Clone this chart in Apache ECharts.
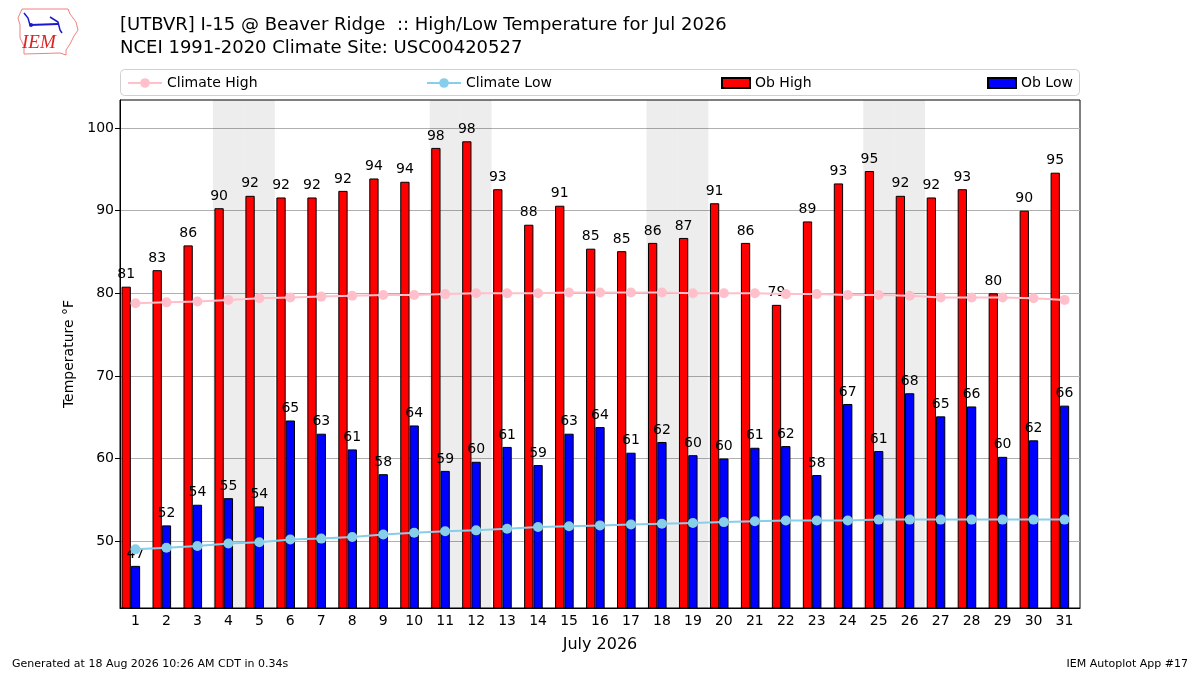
<!DOCTYPE html>
<html>
<head>
<meta charset="utf-8">
<script src="https://cdn.jsdelivr.net/npm/echarts@6/dist/echarts.min.js"></script>
<style>html,body{margin:0;padding:0;background:#fff}#c{width:1200px;height:675px}</style>
</head>
<body>
<div id="c"></div>
<script>
const days = ['1','2','3','4','5','6','7','8','9','10','11','12','13','14','15','16','17','18','19','20','21','22','23','24','25','26','27','28','29','30','31'];
const obHigh = [80.8,82.8,85.8,90.3,91.8,91.6,91.6,92.4,93.9,93.5,97.6,98.4,92.6,88.3,90.6,85.4,85.1,86.1,86.7,90.9,86.1,78.6,88.7,93.3,94.8,91.8,91.6,92.6,80.0,90.0,94.6];
const obLow = [47.0,51.9,54.4,55.2,54.2,64.6,63.0,61.1,58.1,64.0,58.5,59.6,61.4,59.2,63.0,63.8,60.7,62.0,60.4,60.0,61.3,61.5,58.0,66.6,60.9,67.9,65.1,66.3,60.2,62.2,66.4];
const climateHigh = [78.8,78.9,79.0,79.2,79.4,79.5,79.6,79.7,79.8,79.8,79.9,80.0,80.0,80.0,80.1,80.1,80.1,80.1,80.0,80.0,80.0,79.9,79.9,79.8,79.8,79.7,79.5,79.5,79.5,79.4,79.2];
const climateLow = [49.0,49.2,49.4,49.7,49.85,50.2,50.3,50.5,50.8,51.0,51.2,51.3,51.5,51.7,51.8,51.9,52.0,52.1,52.2,52.3,52.4,52.5,52.5,52.5,52.6,52.6,52.6,52.6,52.6,52.6,52.6];
const weekendDays = ['4','5','11','12','18','19','25','26'];
const yTicks = [50,60,70,80,90,100];
const titleLines = ['[UTBVR] I-15 @ Beaver Ridge  :: High/Low Temperature for Jul 2026','NCEI 1991-2020 Climate Site: USC00420527'];
const footerLeft = 'Generated at 18 Aug 2026 10:26 AM CDT in 0.34s';
const footerRight = 'IEM Autoplot App #17';

const FONT = 'DejaVu Sans';
const YMIN = 41.9, YMAX = 103.4;
const shade = days.map(d => weekendDays.includes(d) ? YMAX : '-');

const chart = echarts.init(document.getElementById('c'), null, {renderer:'canvas'});
const legendCommon = {top: 71, itemHeight: 12, textStyle:{fontFamily:FONT, fontSize:14, color:'#000'}, itemGap:0};
chart.setOption({
  animation: false,
  textStyle: {fontFamily: FONT},
  title: {
    text: titleLines.join('\n'),
    left: 115, top: 9,
    textStyle: {fontFamily: FONT, fontSize: 18, fontWeight: 'normal', color: '#000', lineHeight: 23}
  },
  legend: [
    Object.assign({data:['Climate High'], left:122, itemWidth:34}, legendCommon),
    Object.assign({data:['Climate Low'], left:421, itemWidth:34}, legendCommon),
    Object.assign({data:[{name:'Ob High', icon:'rect'}], left:716, itemWidth:28, itemHeight:10}, legendCommon, {itemHeight:10}),
    Object.assign({data:[{name:'Ob Low', icon:'rect'}], left:982, itemWidth:28}, legendCommon, {itemHeight:10})
  ],
  grid: {left:120, right:120, top:100, bottom:67, show:true, borderColor:'#000', borderWidth:1, backgroundColor:'transparent'},
  xAxis: [{
    type:'category', data: days, boundaryGap:true,
    name:'July 2026', nameLocation:'middle', nameGap:29,
    nameTextStyle:{fontFamily:FONT, fontSize:16, color:'#000'},
    axisLine:{lineStyle:{color:'#000'}},
    axisTick:{alignWithLabel:true, length:5, lineStyle:{color:'#000'}},
    axisLabel:{fontFamily:FONT, fontSize:14, color:'#000', margin:6, interval:0},
    splitLine:{show:false}
  },{
    type:'category', data: days, boundaryGap:true, show:false
  }],
  yAxis: {
    type:'value', min:YMIN, max:YMAX,
    name:'Temperature °F', nameLocation:'middle', nameGap:42,
    nameTextStyle:{fontFamily:FONT, fontSize:14, color:'#000'},
    axisLine:{show:true, lineStyle:{color:'#000'}},
    axisTick:{show:true, length:5, lineStyle:{color:'#000'}, customValues: yTicks},
    axisLabel:{fontFamily:FONT, fontSize:14, color:'#000', margin:6, customValues: yTicks},
    splitLine:{show:true, lineStyle:{color:'#b0b0b0', width:1}}
  },
  graphic: [
    {type:'rect', shape:{x:120.5, y:69.5, width:959, height:26, r:4}, style:{fill:'none', stroke:'#d0d0d0', lineWidth:1}, z:-1},
    {type:'polyline', shape:{points:[[22,9],[68,9],[70,14],[76,22],[78,30],[74,36],[70,44],[66,50],[66,55],[60,53],[24,54],[24,46],[20,38],[20,25],[18,18],[22,9]]}, style:{fill:'none', stroke:'#f08080', lineWidth:1}},
    {type:'polyline', shape:{points:[[30,25],[58,24]]}, style:{stroke:'#1a1acc', lineWidth:2}},
    {type:'polyline', shape:{points:[[24,13],[28,18],[30,25]]}, style:{stroke:'#1a1acc', lineWidth:1.5}},
    {type:'polyline', shape:{points:[[50,17],[58,22],[60,30],[62,33]]}, style:{stroke:'#1a1acc', lineWidth:1.5}},
    {type:'circle', shape:{cx:31, cy:25, r:2}, style:{fill:'#1a1acc'}},
    {type:'text', style:{x:22, y:33, text:'IEM', font:'italic 19px "Liberation Serif", serif', fill:'#dd2222'}},
    {type:'text', style:{x:12, y:659, text:footerLeft, font:'11px "DejaVu Sans"', fill:'#000'}},
    {type:'text', style:{x:1188, y:659, text:footerRight, font:'11px "DejaVu Sans"', fill:'#000', align:'right'}}
  ],
  series: [
    {name:'weekend', type:'bar', xAxisIndex:1, data: shade, barWidth:'100%', barGap:'0%',
      itemStyle:{color:'rgba(0,0,0,0.07)'}, z:0, silent:true, legendHoverLink:false},
    {name:'Ob High', type:'bar', data: obHigh, barWidth:'30%', barGap:'0%', z:2,
      itemStyle:{color:'#ff0000', borderColor:'#000', borderWidth:1},
      label:{show:true, position:'top', distance:5, fontFamily:FONT, fontSize:14, color:'#000', formatter:p=>Math.round(p.value)}},
    {name:'Ob Low', type:'bar', data: obLow, barWidth:'30%', barGap:'0%', z:2,
      itemStyle:{color:'#0000ff', borderColor:'#000', borderWidth:1},
      label:{show:true, position:'top', distance:5, fontFamily:FONT, fontSize:14, color:'#000', formatter:p=>Math.round(p.value)}},
    {name:'pad', type:'bar', data: days.map(()=> '-'), barWidth:'30%', barGap:'0%', z:2},
    {name:'Climate High', type:'line', data: climateHigh, symbol:'circle', symbolSize:10, z:3,
      itemStyle:{color:'#ffc0cb'}, lineStyle:{color:'#ffc0cb', width:2}},
    {name:'Climate Low', type:'line', data: climateLow, symbol:'circle', symbolSize:10, z:3,
      itemStyle:{color:'#87ceeb'}, lineStyle:{color:'#87ceeb', width:2}}
  ]
});
</script>
</body>
</html>
